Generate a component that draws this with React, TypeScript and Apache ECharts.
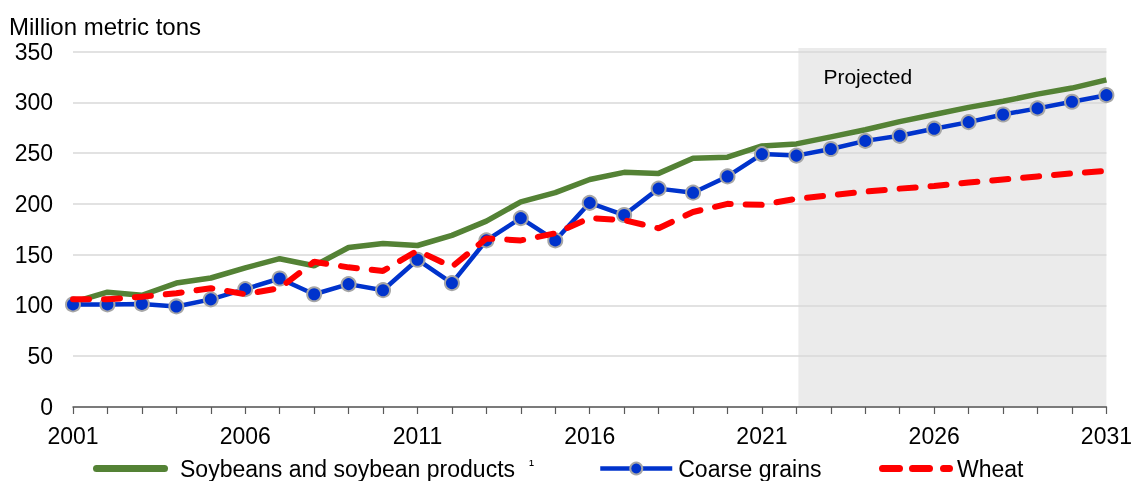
import React, { useEffect, useRef } from "react";
import * as echarts from "echarts";

const years: string[] = [];
for (let y = 2001; y <= 2031; y++) years.push(String(y));

const soybeans = [103, 113, 110, 122, 127, 137, 146, 139, 157, 161, 159, 169, 183, 202, 211, 224, 231, 230, 245, 246, 257, 259, 266, 273, 281, 288, 295, 301, 308, 314, 322];
const coarseGrains = [101, 101, 101.5, 99, 106, 116, 126.5, 111, 121, 115, 145, 122, 164, 186, 164, 201, 189, 215, 211, 227, 249, 247.5, 254, 262, 267, 274, 280.5, 288, 294, 300.5, 307];
const wheat = [106, 106, 108.5, 112, 117, 111, 117, 143, 137.5, 134, 154, 138, 166, 164, 171, 186, 184, 176, 192, 200, 199, 205, 208.5, 212, 215, 217.5, 221, 224, 227, 230, 232.5];

const yTicks = { min: 0, max: 350, interval: 50 };
const projectedStart = "2022";
const projectedEnd = "2031";
const projectedTop = 353.5;

const FONT = "'Liberation Sans', Arial, sans-serif";

function capsule(a: number, b: number, h: number) {
  const r = h / 2;
  return `M${a + r},0 L${b - r},0 A${r},${r} 0 0 1 ${b - r},${h} L${a + r},${h} A${r},${r} 0 0 1 ${a + r},0 Z`;
}
const greenIcon = "path://" + capsule(0, 75, 7);
const redIcon = "path://" + capsule(0, 24, 7) + " " + capsule(30, 54, 7) + " " + capsule(61, 74, 7);

export default function App() {
  const ref = useRef<HTMLDivElement>(null);
  useEffect(() => {
    const chart = echarts.init(ref.current!, null, { renderer: "svg" });
    const soyName = "Soybeans and soybean products \u00b9";
    chart.setOption({
      animation: false,
      textStyle: { fontFamily: FONT },
      title: {
        text: "Million metric tons",
        left: 9,
        top: 14,
        padding: 0,
        textStyle: { fontSize: 24, fontWeight: "normal", color: "#000", fontFamily: FONT },
      },
      grid: { left: 73, right: 27, top: 51.5, bottom: 74 },
      xAxis: {
        type: "category",
        data: years,
        boundaryGap: false,
        axisLine: { lineStyle: { color: "#595959", width: 1.5 } },
        axisTick: { show: true, interval: 0, length: 7, lineStyle: { color: "#595959", width: 1.2 } },
        axisLabel: { interval: 4, fontSize: 23, color: "#000", margin: 17, fontFamily: FONT },
        splitLine: { show: false },
      },
      yAxis: {
        type: "value",
        min: yTicks.min,
        max: yTicks.max,
        interval: yTicks.interval,
        axisLine: { show: false },
        axisTick: { show: false },
        axisLabel: { fontSize: 23, color: "#000", margin: 20, fontFamily: FONT },
        splitLine: { lineStyle: { color: "#d9d9d9", width: 1.5 } },
      },
      legend: [
        {
          data: [{ name: soyName, icon: greenIcon }],
          left: 93,
          top: 457,
          itemWidth: 75,
          itemHeight: 7,
          padding: 0,
          formatter: () => "{a|Soybeans and soybean products}{b|\u00b9}",
          textStyle: {
            color: "#000",
            fontFamily: FONT,
            padding: [0, 0, 0, 7],
            rich: {
              a: { fontSize: 23, color: "#000", fontFamily: FONT },
              b: { fontSize: 15, color: "#000", fontFamily: FONT, verticalAlign: "top", padding: [0, 0, 8, 14] },
            },
          },
        },
        {
          data: [{ name: "Coarse grains", lineStyle: { width: 4.5 } }],
          left: 598,
          top: 457,
          itemWidth: 72,
          itemHeight: 15,
          padding: 0,
          textStyle: { fontSize: 23, color: "#000", fontFamily: FONT, padding: [0, 0, 0, 1] },
        },
        {
          data: [{ name: "Wheat", icon: redIcon }],
          left: 879,
          top: 457,
          itemWidth: 74,
          itemHeight: 7,
          padding: 0,
          textStyle: { fontSize: 23, color: "#000", fontFamily: FONT, padding: [0, 0, 0, -1] },
        },
      ],
      series: [
        {
          name: soyName,
          type: "line",
          data: soybeans,
          symbol: "none",
          lineStyle: { color: "#548235", width: 5.5 },
          itemStyle: { color: "#548235" },
          z: 2,
        },
        {
          name: "Coarse grains",
          type: "line",
          data: coarseGrains,
          symbol: "circle",
          symbolSize: 14,
          lineStyle: { color: "#0033cc", width: 4.5 },
          itemStyle: { color: "#0033cc", borderColor: "#a6a6a6", borderWidth: 2 },
          z: 3,
        },
        {
          name: "Wheat",
          type: "line",
          data: wheat,
          symbol: "none",
          lineStyle: { color: "#ff0000", width: 6, type: [16, 15], cap: "round" },
          itemStyle: { color: "#ff0000" },
          z: 4,
        },
      ],
    });
    const p0 = chart.convertToPixel({ xAxisIndex: 0, yAxisIndex: 0 }, [projectedStart, 0]) as number[];
    const p1 = chart.convertToPixel({ xAxisIndex: 0, yAxisIndex: 0 }, [projectedEnd, projectedTop]) as number[];
    chart.setOption({
      graphic: [
        {
          type: "rect",
          z: -1,
          silent: true,
          shape: { x: p0[0] + 2, y: p1[1], width: p1[0] - p0[0] - 2, height: p0[1] - p1[1] },
          style: { fill: "#ebebeb" },
        },
        {
          type: "text",
          z: 5,
          silent: true,
          x: p0[0] + 27,
          y: p1[1] + 18,
          style: { text: "Projected", fontSize: 21, fill: "#000", fontFamily: FONT },
        },
      ],
    });
    return () => chart.dispose();
  }, []);
  return <div ref={ref} style={{ position: "fixed", left: 0, top: 0, width: 1135, height: 481 }} />;
}
